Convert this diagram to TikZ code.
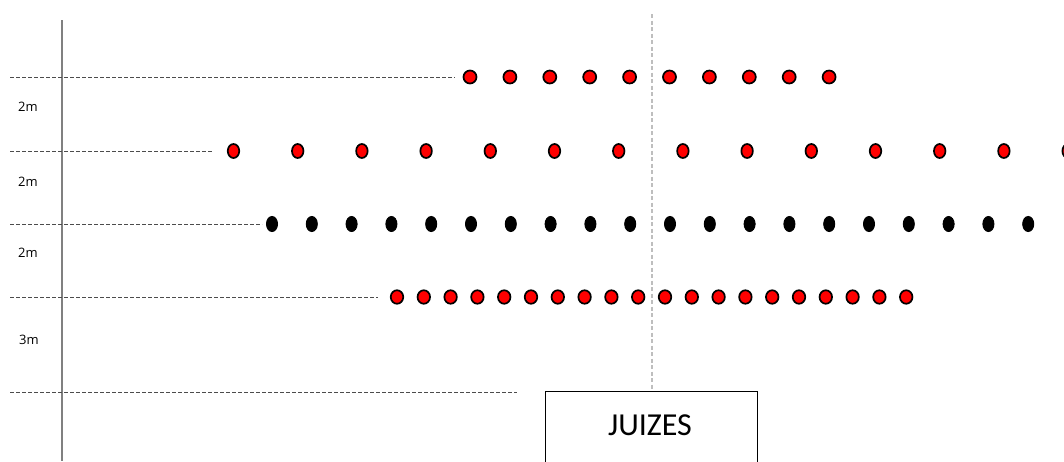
\documentclass[tikz,border=0pt]{standalone}
\usepackage{fontspec}
\setmainfont{Open Sans}
\newfontfamily\boxfont{Carlito}
\usetikzlibrary{shapes.geometric}
\definecolor{dotred}{RGB}{255,0,0}
\definecolor{lightgr}{RGB}{190,190,190}
\tikzset{
  reddot/.style={draw=black, line width=1.7pt, fill=dotred, ellipse, inner sep=0pt, minimum width=#1, minimum height=12pt},
  reddot/.default=12pt,
  blackdot/.style={draw=black, line width=1pt, fill=black, ellipse, inner sep=0pt, minimum width=11pt, minimum height=15pt},
  guide/.style={draw=black!70, line width=1pt, dash pattern=on 4pt off 2pt},
  axisline/.style={draw=black!50, line width=1.4pt},
  centerline/.style={draw=lightgr, line width=1.5pt, dash pattern=on 4pt off 2.5pt},
  lbl/.style={font=\fontsize{13}{15}\selectfont, inner sep=0pt},
  judgebox/.style={draw=black, line width=1.4pt, fill=white, minimum width=212pt, minimum height=80pt, inner sep=0pt}
}
\begin{document}
\begin{tikzpicture}[x=1pt,y=-1pt]
\useasboundingbox (0,0) rectangle (1064,461);
\begin{scope}
\clip (0,0) rectangle (1064,461);
% center dashed line
\coordinate (ctop) at (652,14);
\coordinate (cbot) at (652,391);
\draw[centerline] (ctop) -- (cbot);
% vertical axis
\coordinate (vtop) at (62,20);
\coordinate (vbot) at (62,461);
\draw[axisline] (vtop) -- (vbot);
% guide lines
\foreach \y/\xe/\n in {77/455/a, 151/212/b, 224/262/c, 297/378/d, 392/517/e}{
  \coordinate (gs\n) at (10,\y);
  \coordinate (ge\n) at (\xe,\y);
  \draw[guide] (gs\n) -- (ge\n);
}
% labels
\node[lbl] (l1) at (28,107) {2m};
\node[lbl] (l2) at (28,182) {2m};
\node[lbl] (l3) at (28,253) {2m};
\node[lbl] (l4) at (29,340) {3m};
% row 1
\foreach \i in {0,...,9}{
  \node[reddot=13pt, minimum height=13pt] (r1-\i) at ({470+39.9*\i},77) {};
}
% row 2
\foreach \i in {0,...,13}{
  \node[reddot=11.5pt, minimum height=14pt] (r2-\i) at ({233.5+64.2*\i},151) {};
}
% row 3
\foreach \i in {0,...,19}{
  \node[blackdot] (r3-\i) at ({272+39.8*\i},224) {};
}
% row 4
\foreach \i in {0,...,19}{
  \node[reddot=12.5pt, minimum height=13.5pt] (r4-\i) at ({397+26.8*\i},297) {};
}
% judges box
\node[judgebox, anchor=north west] (box) at (545,391) {};
\node[font=\boxfont\fontsize{32}{35}\selectfont, inner sep=0pt] (jt) at (650,425) {JUIZES};
\end{scope}
\end{tikzpicture}
\end{document}
